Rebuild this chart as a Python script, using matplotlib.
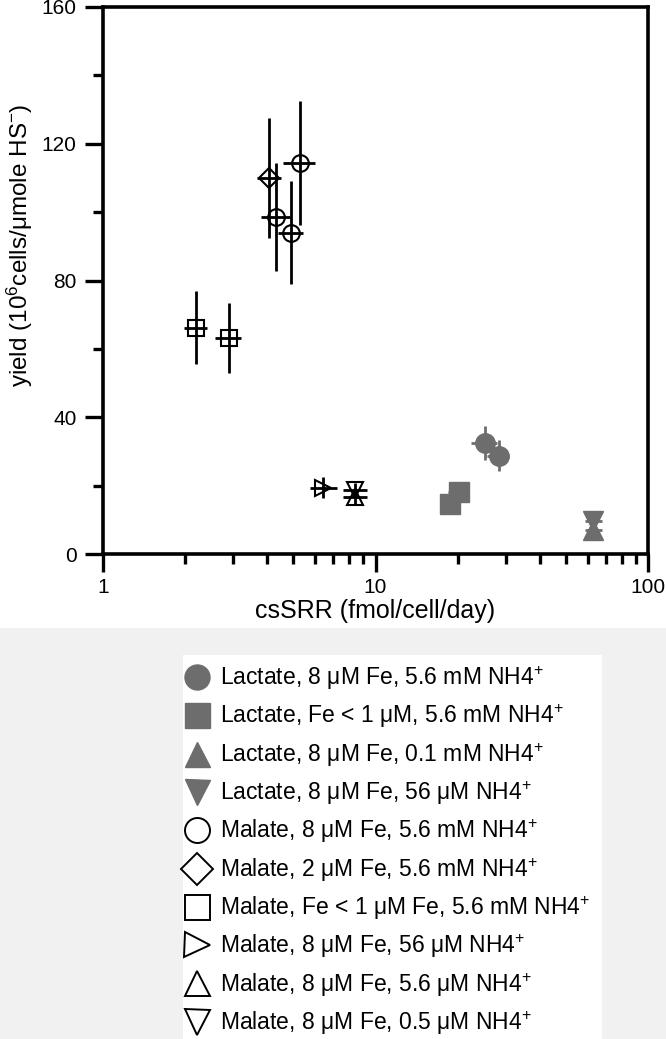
import numpy as np
import matplotlib
matplotlib.use("Agg")
import matplotlib.pyplot as plt
from matplotlib.lines import Line2D
from matplotlib.patches import Rectangle

plt.rcParams['font.family'] = ['Liberation Sans', 'DejaVu Sans']
plt.rcParams['mathtext.fontset'] = 'custom'
plt.rcParams['mathtext.rm'] = 'Liberation Sans'
plt.rcParams['mathtext.it'] = 'Liberation Sans:italic'

GRAY = '#6d6d6d'

# ---- data ----
labels = [
    'Lactate, 8 μM Fe, 5.6 mM NH4$^{+}$',
    'Lactate, Fe < 1 μM, 5.6 mM NH4$^{+}$',
    'Lactate, 8 μM Fe, 0.1 mM NH4$^{+}$',
    'Lactate, 8 μM Fe, 56 μM NH4$^{+}$',
    'Malate, 8 μM Fe, 5.6 mM NH4$^{+}$',
    'Malate, 2 μM Fe, 5.6 mM NH4$^{+}$',
    'Malate, Fe < 1 μM Fe, 5.6 mM NH4$^{+}$',
    'Malate, 8 μM Fe, 56 μM NH4$^{+}$',
    'Malate, 8 μM Fe, 5.6 μM NH4$^{+}$',
    'Malate, 8 μM Fe, 0.5 μM NH4$^{+}$',
]
markers = ['o', 's', '^', 'v', 'o', 'D', 's', '>', '^', 'v']
filled = [True, True, True, True, False, False, False, False, False, False]

# csSRR (fmol/cell/day), with lower / upper ends of the x error bars
x_vals = [[25.2, 28.4], [18.8, 20.3], [63.0], [63.0],
          [5.30, 4.30, 4.90], [4.08], [2.19, 2.90], [6.40], [8.4], [8.4]]
x_low = [[22.5, 25.7], [17.3, 18.4], [58.5], [58.5],
         [4.56, 3.79, 4.40], [3.67], [1.98, 2.58], [5.77], [7.6], [7.6]]
x_high = [[27.8, 31.0], [20.3, 21.9], [68.0], [68.0],
          [6.01, 4.85, 5.43], [4.50], [2.41, 3.21], [7.23], [9.3], [9.3]]
# yield (10^6 cells / umole HS-) and y error
y_vals = [[32.4, 28.8], [14.6, 18.0], [7.0], [9.6],
          [114.3, 98.5, 94.0], [110.0], [66.2, 63.2], [19.4], [16.8], [18.7]]
y_err = [[5.0, 4.6], [2.0, 3.0], [1.0], [1.0],
         [18.2, 15.8, 15.0], [17.5], [10.7, 10.3], [3.0], [2.5], [2.0]]

fig = plt.figure(figsize=(6.66, 10.39), dpi=100)
fig.patches.append(Rectangle((0, 0), 1, 1 - 628 / 1039, transform=fig.transFigure,
                             facecolor='#f1f1f1', edgecolor='none', zorder=0))
fig.patches.append(Rectangle((183 / 666, 0), (602 - 183) / 666, 1 - 655 / 1039,
                             transform=fig.transFigure, facecolor='white',
                             edgecolor='none', zorder=0))

ax = fig.add_axes([103 / 666, 1 - 554 / 1039, (648 - 103) / 666, (554 - 7) / 1039])

for i in range(len(labels)):
    x = np.array(x_vals[i])
    y = np.array(y_vals[i])
    xerr = [x - np.array(x_low[i]), np.array(x_high[i]) - x]
    if filled[i]:
        ax.errorbar(x, y, xerr=xerr, yerr=y_err[i], fmt=markers[i], ms=14,
                    mfc=GRAY, mec=GRAY, ecolor=GRAY, elinewidth=2, capsize=0)
    else:
        ms = 10 if markers[i] == 'D' else 12
        ax.errorbar(x, y, xerr=xerr, yerr=y_err[i], fmt=markers[i], ms=ms,
                    mfc='none', mec='k', mew=1.5, ecolor='k', elinewidth=2, capsize=0)

ax.set_xscale('log')
ax.set_xlim(1, 100)
ax.set_ylim(0, 160)
ax.set_xticks([1, 10, 100])
ax.set_xticklabels(['1', '10', '100'])
ax.set_yticks([0, 40, 80, 120, 160])
ax.set_yticks([20, 60, 100, 140], minor=True)

for s in ax.spines.values():
    s.set_linewidth(2.6)
ax.tick_params(which='major', length=13, width=2.4, labelsize=15, direction='out', pad=4)
ax.tick_params(which='minor', length=7, width=2.4, direction='out')
ax.tick_params(axis='y', which='major', pad=6)

ax.set_xlabel('csSRR (fmol/cell/day)', fontsize=18, labelpad=2)
ax.set_ylabel('yield (10$^6$cells/μmole HS$^{-}$)', fontsize=17.5)
ax.yaxis.set_label_coords(-0.152, 0.565)
ax.yaxis.label.set_va('center')

# legend
handles = []
for i in range(len(labels)):
    if filled[i]:
        h = Line2D([], [], ls='none', marker=markers[i], ms=18, mfc=GRAY, mec=GRAY)
    else:
        h = Line2D([], [], ls='none', marker=markers[i], ms=16 if markers[i] == 'D' else 18,
                   mfc='none', mec='k', mew=1.4)
    handles.append(h)
fig.legend(handles, labels, loc='upper left', bbox_to_anchor=(186 / 666, 1 - 664 / 1039),
           frameon=False, fontsize=16.5, handlelength=1.0, handletextpad=0.5,
           labelspacing=0.455, borderpad=0, borderaxespad=0)

fig.savefig('out.png', dpi=100)
